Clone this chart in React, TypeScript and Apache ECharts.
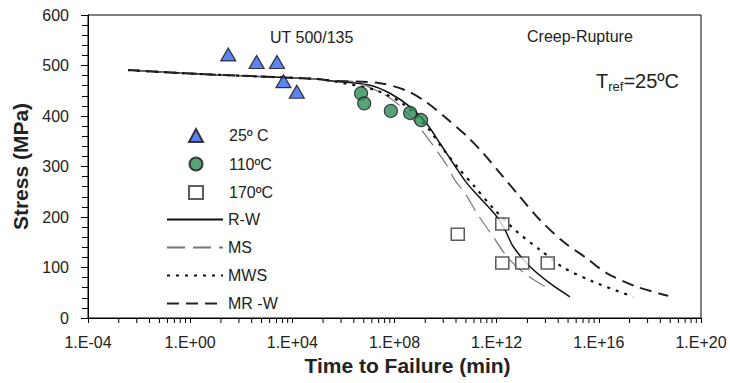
import React, { useEffect, useRef } from "react";
import * as echarts from "echarts";

// ---- data (time in minutes, stress in MPa) ----
const tri25: number[][] = [
  [3.1e1, 522], [4.0e2, 507], [2.5e3, 507], [4.5e3, 469], [1.5e4, 448],
];
const circ110: number[][] = [
  [4.9e6, 445], [6.5e6, 425], [7.2e7, 410], [4.1e8, 406], [1.1e9, 392],
];
const sq170: number[][] = [
  [3.0e10, 166], [1.66e12, 186], [1.66e12, 109], [1.0e13, 109], [1.0e14, 109],
];

const commonStart: number[][] = [
  [3.7e-3, 491], [0.4, 485], [2.2e2, 479], [1.2e5, 473], [3.0e5, 470],
];
const rwTail: number[][] = [
  [1.1e7, 461], [6.6e7, 445], [4.1e8, 418], [1.8e9, 385], [6.0e9, 346],
  [2.0e10, 306], [6.8e10, 267], [2.2e11, 238], [1.0e12, 201], [2.1e12, 175],
  [4.5e12, 141], [2.0e13, 102], [1.2e14, 69], [7.4e14, 42],
];
const msTail: number[][] = [
  [1.8e6, 469], [2.7e7, 447], [1.66e8, 420], [1.0e9, 376], [3.3e9, 341],
  [1.1e10, 303], [2.3e10, 273], [5.8e10, 247], [1.66e11, 208], [6.8e11, 163],
  [2.9e12, 118], [1.5e13, 85], [1.15e14, 57],
];
const mwsTail: number[][] = [
  [1.6e7, 452], [2.0e8, 425], [2.0e9, 376], [7.9e9, 335], [3.7e10, 293],
  [1.23e11, 263], [7.4e11, 217], [6.2e12, 171], [5.0e13, 135], [4.1e14, 100],
  [6.0e15, 72], [2.2e17, 42],
];
const mrwTail: number[][] = [
  [2.7e7, 465], [3.0e8, 450], [1.8e9, 427], [1.1e10, 395], [6.8e10, 360],
  [3.0e11, 326], [1.35e12, 287], [8.1e12, 240], [5.0e13, 194], [4.1e14, 151],
  [3.4e15, 118], [2.0e16, 89], [3.0e17, 62], [5.2e18, 44],
];

const rwCurve = [...commonStart, ...rwTail];
const msCurve = [...commonStart, ...msTail];
const mwsCurve = [...commonStart, ...mwsTail];
const mrwCurve = [...commonStart, ...mrwTail];

const scatterNames = ["25º C", "110ºC", "170ºC"];
const lineNames = ["R-W", "MS", "MWS", "MR -W"];

// Excel-style minor ticks (base 10000 axis, k = 2..9 within each major span)
const xMinorTicks: number[][] = [];
for (let n = -1; n < 5; n++) {
  for (let k = 2; k <= 9; k++) {
    xMinorTicks.push([Math.pow(10000, n) * Math.pow(k, 4), 0]);
  }
}

const FONT = "'Liberation Sans', Arial, sans-serif";
const NOSYM = { color: "rgba(0,0,0,0)", borderColor: "rgba(0,0,0,0)", borderWidth: 0 };

function fmtX(v: number): string {
  const e = Math.round(Math.log10(v));
  return "1.E" + (e < 0 ? "-" : "+") + String(Math.abs(e)).padStart(2, "0");
}

export default function App() {
  const ref = useRef<HTMLDivElement>(null);
  useEffect(() => {
    document.body.style.margin = "0";
    if (!ref.current) return;
    const chart = echarts.init(ref.current, undefined, { renderer: "svg" });
    const lineBase = {
      type: "line", showSymbol: false, symbol: "none", smooth: 0.3,
      z: 2, itemStyle: NOSYM,
    };
    chart.setOption({
      animation: false,
      textStyle: { fontFamily: FONT },
      grid: {
        left: 88, right: 29, top: 15, bottom: 65,
        show: true, borderColor: "#000", borderWidth: 1, backgroundColor: "transparent",
      },
      title: [
        { text: "UT 500/135", left: 270, top: 29, padding: 0,
          textStyle: { fontSize: 16, fontWeight: "normal", color: "#222", fontFamily: FONT } },
        { text: "Creep-Rupture", left: 527, top: 28, padding: 0,
          textStyle: { fontSize: 16, fontWeight: "normal", color: "#222", fontFamily: FONT } },
        { text: "{t|T}{s|ref}{t|=25ºC}", left: 596, top: 69, padding: 0,
          textStyle: {
            fontFamily: FONT, color: "#222", fontWeight: "normal",
            rich: {
              t: { fontSize: 20, lineHeight: 24, fontWeight: "normal", fontFamily: FONT, color: "#222" },
              s: { fontSize: 13, lineHeight: 24, fontWeight: "normal", padding: [10, 0, 0, 0], verticalAlign: "bottom", fontFamily: FONT, color: "#222" },
            },
          } },
      ],
      legend: [
        {
          data: scatterNames, orient: "vertical", left: 188, top: 127.5, padding: 0,
          itemWidth: 14, itemHeight: 13, itemGap: 12.5, selectedMode: false,
          textStyle: { fontSize: 16, color: "#222", fontFamily: FONT, padding: [0, 0, 0, 21] },
        },
        {
          data: lineNames, orient: "vertical", left: 166, top: 211.5, padding: 0,
          itemWidth: 56, itemHeight: 14, itemGap: 12, selectedMode: false,
          itemStyle: { opacity: 0 },
          textStyle: { fontSize: 16, color: "#222", fontFamily: FONT },
        },
      ],
      xAxis: {
        type: "log", logBase: 10000, min: 1e-4, max: 1e20, splitNumber: 6,
        name: "Time to Failure (min)", nameLocation: "middle", nameGap: 36,
        nameTextStyle: { fontSize: 21, fontWeight: "bold", color: "#222", fontFamily: FONT, padding: [0, 0, 0, 26] },
        axisLine: { show: true, lineStyle: { color: "#000", width: 1 } },
        axisTick: { show: true, length: 5, lineStyle: { color: "#000" } },
        axisLabel: { formatter: fmtX, fontSize: 16, color: "#222", margin: 16, fontFamily: FONT },
        splitLine: { show: false },
        minorTick: { show: false },
      },
      yAxis: {
        type: "value", min: 0, max: 600, interval: 100,
        name: "Stress (MPa)", nameLocation: "middle", nameGap: 53,
        nameTextStyle: { fontSize: 21, fontWeight: "bold", color: "#222", fontFamily: FONT },
        axisLine: { show: true, lineStyle: { color: "#000", width: 1 } },
        axisTick: { show: true, length: 7, lineStyle: { color: "#000" } },
        minorTick: { show: true, splitNumber: 5, length: 6, lineStyle: { color: "#000" } },
        axisLabel: { fontSize: 16, color: "#222", margin: 19, fontFamily: FONT },
        splitLine: { show: false },
      },
      series: [
        {
          type: "custom", name: "minorTicks", data: xMinorTicks, clip: false, silent: true, z: 1,
          renderItem: (_p: any, api: any) => {
            const pt = api.coord([api.value(0), 0]);
            return {
              type: "line",
              shape: { x1: pt[0], y1: pt[1], x2: pt[0], y2: pt[1] + 5 },
              style: { stroke: "#000", lineWidth: 1 },
            };
          },
        },
        { ...lineBase, name: "R-W", data: rwCurve, lineStyle: { color: "#111", width: 1.5, type: "solid" } },
        { ...lineBase, name: "MS", data: msCurve, lineStyle: { color: "#777", width: 1.2, type: [18, 8] } },
        { ...lineBase, name: "MWS", data: mwsCurve, lineStyle: { color: "#111", width: 2.2, type: [3, 6] } },
        { ...lineBase, name: "MR -W", data: mrwCurve, lineStyle: { color: "#222", width: 2, type: [12, 7] } },
        {
          type: "scatter", name: "25º C", data: tri25, symbol: "triangle", symbolSize: [15, 13], z: 5,
          itemStyle: { color: "#3366ee", borderColor: "#111", borderWidth: 1.2 },
        },
        {
          type: "scatter", name: "110ºC", data: circ110, symbol: "circle", symbolSize: 13, z: 5,
          itemStyle: { color: "#2e8b57", borderColor: "#1a1a1a", borderWidth: 1.2 },
        },
        {
          type: "scatter", name: "170ºC", data: sq170, symbol: "rect", symbolSize: [13, 12], z: 5,
          itemStyle: { color: "#ffffff", borderColor: "#333", borderWidth: 1.5 },
        },
      ],
    });
    return () => chart.dispose();
  }, []);
  return <div ref={ref} style={{ width: 730, height: 383 }} />;
}
